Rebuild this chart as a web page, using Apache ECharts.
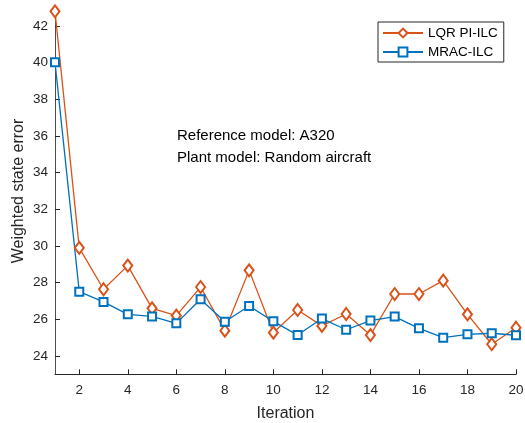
<!DOCTYPE html>
<html>
<head>
<meta charset="utf-8">
<script src="https://cdn.jsdelivr.net/npm/echarts@6/dist/echarts.min.js"></script>
<style>
html, body { margin: 0; padding: 0; background: #fff; }
#chart1 { width: 525px; height: 423px; }
</style>
</head>
<body>
<div id="chart1"></div>
<script>
var iterations = ['1','2','3','4','5','6','7','8','9','10','11','12','13','14','15','16','17','18','19','20'];
var lqrPiIlc = [42.8, 29.9, 27.64, 28.93, 26.6, 26.2, 27.76, 25.38, 28.67, 25.27, 26.51, 25.64, 26.29, 25.14, 27.38, 27.38, 28.11, 26.27, 24.64, 25.54];
var mracIlc = [40.02, 27.51, 26.95, 26.27, 26.16, 25.78, 27.09, 25.87, 26.73, 25.89, 25.14, 26.04, 25.43, 25.93, 26.15, 25.51, 25.0, 25.18, 25.24, 25.13];
var notes = ['Reference model: A320', 'Plant model: Random aircraft'];

var font = "'Liberation Sans', Arial, Helvetica, sans-serif";
var axisColor = '#262626';
var evenOnly = function (idx) { return idx % 2 === 1; };

var option = {
	animation: false,
	backgroundColor: '#fff',
	textStyle: { fontFamily: font },
	grid: { left: 55, right: 9, top: 7.7, bottom: 48.7, outerBoundsMode: 'none' },
	legend: {
		orient: 'vertical',
		left: 378,
		top: 22,
		padding: [4, 6, 3, 4],
		itemGap: 5,
		itemWidth: 40,
		itemHeight: 11,
		borderColor: axisColor,
		borderWidth: 1,
		backgroundColor: '#fff',
		textStyle: { fontSize: 13.5, color: '#000', fontFamily: font },
		data: ['LQR PI-ILC', 'MRAC-ILC']
	},
	xAxis: {
		type: 'category',
		data: iterations,
		boundaryGap: false,
		name: 'Iteration',
		nameLocation: 'middle',
		nameGap: 31,
		nameMoveOverlap: false,
		nameTextStyle: { fontSize: 16, color: axisColor, fontFamily: font },
		axisLine: { lineStyle: { color: axisColor, width: 1 } },
		axisTick: { inside: true, length: 5, interval: evenOnly, lineStyle: { color: axisColor } },
		axisLabel: { interval: evenOnly, fontSize: 13.5, color: axisColor, margin: 9, fontFamily: font },
		splitLine: { show: false }
	},
	yAxis: {
		type: 'value',
		min: 23,
		max: 43,
		splitNumber: 10,
		name: 'Weighted state error',
		nameLocation: 'middle',
		nameGap: 28,
		nameMoveOverlap: false,
		nameTextStyle: { fontSize: 16, color: axisColor, fontFamily: font },
		axisLine: { show: true, lineStyle: { color: '#4d4d4d', width: 1 } },
		axisTick: { show: true, inside: true, length: 5, lineStyle: { color: axisColor } },
		axisLabel: { showMinLabel: false, showMaxLabel: false, fontSize: 13.5, color: axisColor, margin: 7, fontFamily: font },
		splitLine: { show: false }
	},
	graphic: [
		{ type: 'text', x: 177, y: 136, style: { text: notes[0], font: '15px ' + font, fill: '#000', verticalAlign: 'middle' } },
		{ type: 'text', x: 177, y: 157.5, style: { text: notes[1], font: '15px ' + font, fill: '#000', verticalAlign: 'middle' } }
	],
	series: [
		{
			name: 'LQR PI-ILC',
			type: 'line',
			data: lqrPiIlc,
			symbol: 'emptyDiamond',
			symbolSize: [9, 12],
			lineStyle: { color: '#D95319', width: 1.3 },
			itemStyle: { color: '#D95319', borderColor: '#D95319', borderWidth: 1 }
		},
		{
			name: 'MRAC-ILC',
			type: 'line',
			data: mracIlc,
			symbol: 'emptyRect',
			symbolSize: 8,
			lineStyle: { color: '#0072BD', width: 1.3 },
			itemStyle: { color: '#0072BD', borderColor: '#0072BD', borderWidth: 1 }
		}
	]
};
var chart1 = echarts.init(document.getElementById('chart1'));
chart1.setOption(option);
</script>
</body>
</html>
